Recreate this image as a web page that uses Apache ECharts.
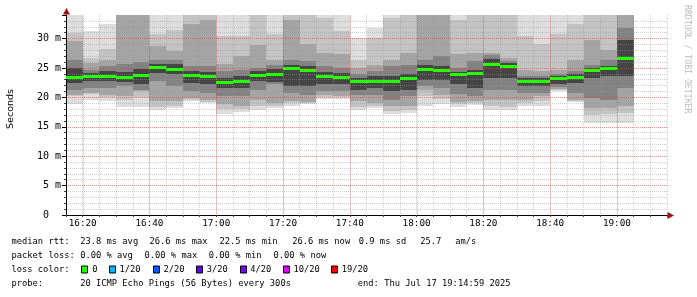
<!DOCTYPE html>
<html>
<head>
<meta charset="utf-8">
<script src="https://cdn.jsdelivr.net/npm/echarts@6/dist/echarts.min.js"></script>
<style>
html,body{margin:0;padding:0;background:#ffffff;}
#c{width:697px;height:297px;}
</style>
</head>
<body>
<div id="c"></div>
<script>
// ---------------- data ----------------
const colTimes = ['16:15','16:20','16:25','16:30','16:35','16:40','16:45','16:50','16:55','17:00','17:05','17:10',
  '17:15','17:20','17:25','17:30','17:35','17:40','17:45','17:50','17:55','18:00','18:05','18:10',
  '18:15','18:20','18:25','18:30','18:35','18:40','18:45','18:50','18:55','19:00'];
const medianRtt = [23.4,23.6,23.6,23.45,23.7,25.0,24.8,23.8,23.6,22.5,22.7,23.7,23.85,24.9,24.65,23.6,23.45,22.7,22.7,22.7,23.15,24.75,24.55,23.85,24.1,25.6,25.2,22.7,22.7,23.25,23.45,24.65,24.9,26.6];
// smoke band edges (ms), outermost (1) to innermost (5)
const smokeHi1 = [36,31.2,32.4,38,38,36,36,36,36,36,36,36,36,36,36,34.5,36,30.1,31.8,34.5,36,38,38,34.6,36,36,36,36,36,36,34.5,36,36,38];
const smokeHi2 = [30.95,26.7,28.2,36,36,30.7,31.5,35,35,30.4,30.4,35,30.7,35,35,33.5,31.2,26.4,30.1,33.5,35,36,36,33.2,35,35,35,30.4,29.0,30.7,32.4,35,35,37];
const smokeHi3 = [29.5,25.85,26.4,35,35,28.7,27.8,32.4,33.2,25.6,27.0,28.96,26.4,33.2,29.0,27.5,27.3,25.0,25.56,26.4,27.5,35,35,27.3,27.5,27.6,26.7,24.7,24.4,24.7,26.4,29.8,28.1,36];
const smokeHi4 = [26.4,24.7,25.3,25.6,26.0,26.4,26.4,25.3,25.3,24.4,24.7,25.0,25.56,26.4,26.1,25.3,25.0,23.9,24.4,25.3,25.56,26.4,27.0,25.0,26.1,27.2,26.2,23.6,23.7,23.9,24.4,25.56,26.4,31.8];
const smokeHi5 = [25.0,24.1,24.4,24.3,24.8,25.7,25.6,24.4,24.3,23.3,23.6,24.4,24.8,25.56,25.3,24.3,24.1,23.3,23.6,23.7,23.9,25.56,25.4,24.3,24.7,26.5,25.8,23.3,23.3,23.6,23.9,25.0,25.3,29.8];
const smokeLo5 = [22.4,22.7,22.7,22.6,22.2,24.1,23.9,22.4,22.2,21.6,21.6,22.7,22.6,21.9,21.9,22.2,22.2,21.3,21.6,21.0,21.3,23.0,23.0,22.2,21.6,23.3,23.3,21.9,21.9,22.2,22.4,23.3,23.6,23.6];
const smokeLo4 = [21.3,21.6,21.6,21.9,21.3,22.7,21.9,21.0,20.7,20.2,20.2,21.3,22.2,20.75,20.45,21.0,21.0,20.45,20.45,19.6,20.2,21.9,21.6,20.6,20.2,21.3,21.3,20.75,20.75,21.7,20.75,19.9,19.6,21.6];
const smokeLo3 = [20.45,20.75,20.45,20.3,21.0,19.3,19.3,19.9,19.6,18.8,18.5,19.6,19.0,19.3,19.2,20.4,20.2,19.3,19.0,18.5,18.5,21.3,20.45,19.2,19.3,19.6,19.6,19.6,20.2,21.4,19.6,18.2,18.2,18.5];
const smokeLo2 = [20.2,20.6,20.1,19.6,20.0,18.4,18.6,19.6,19.2,18.0,18.0,18.5,18.6,19.0,19.0,20.1,20.0,18.3,18.5,17.6,17.8,20.2,19.8,18.8,19.0,18.5,18.3,19.0,19.3,21.2,19.4,17.0,17.2,17.3];
const smokeLo1 = [18.8,19.5,19.4,18.3,18.3,17.9,18.2,19.3,19.0,17.2,17.5,17.8,18.2,18.6,18.8,19.8,19.8,17.8,18.2,17.2,17.4,18.6,18.8,18.4,18.7,17.8,17.8,18.6,18.5,21.0,19.2,15.6,15.6,15.6];

const xTickLabels = ['16:20','16:40','17:00','17:20','17:40','18:00','18:20','18:40','19:00'];
const yTickLabels = ['0','5 m','10 m','15 m','20 m','25 m','30 m'];
const axisStart = '16:15';
const axisEnd = '19:15';
const stepMinutes = 5;
const yMax = 34;

const lossLabels = ['0','1/20','2/20','3/20','4/20','10/20','19/20'];
const legendRow1 = ['median rtt:','23.8 ms avg','26.6 ms max','22.5 ms min','26.6 ms now','0.9 ms sd','25.7','am/s'];
const legendRow2 = ['packet loss:','0.00 % avg','0.00 % max','0.00 % min','0.00 % now'];
const legendRow3 = ['loss color:'];
const legendRow4 = ['probe:','20 ICMP Echo Pings (56 Bytes) every 300s','end: Thu Jul 17 19:14:59 2025'];
const watermark = 'RRDTOOL / TOBI OETIKER';
const yAxisTitle = 'Seconds';

// ---------------- styles / layout ----------------
const lossColors = ['#26ff00','#00b8ff','#0059ff','#5e00ff','#7e00ff','#dd00ff','#ff0000'];
const bandColors = ['#dddddd','#c3c3c3','#a4a4a4','#828282','#454545'];
const MONO = '"DejaVu Sans Mono"';
const row1X = [11.5,80.2,149.5,219.5,292.2,358.8,420.2,455.2];
const row2X = [11.5,80.2,144.5,208.8,273.5];
const row4X = [11.5,80.2,357.8];
const boxX = [81.5,109.5,153.5,196.5,240.5,283.5,331.5];
const boxLabelX = [92.2,119.5,163.5,206.8,250.2,293.5,341.8];
const rowY = [241.7,255.5,269.5,283.5];

function toMin(s){ const p = s.split(':').map(Number); return p[0]*60+p[1]; }
function minToStr(v){ const h = Math.floor(v/60), m = Math.round(v - h*60); return h + ':' + (m<10?'0':'') + m; }

const colMin = colTimes.map(toMin);
const xMin = toMin(axisStart), xMax = toMin(axisEnd);

const bandsHi = [smokeHi1, smokeHi2, smokeHi3, smokeHi4, smokeHi5];
const bandsLo = [smokeLo1, smokeLo2, smokeLo3, smokeLo4, smokeLo5];

function clipToGrid(r, cs){
  return echarts.graphic.clipRectByRect(r, {x: cs.x, y: cs.y, width: cs.width, height: cs.height});
}

function bandSeries(k){
  return {
    type: 'custom',
    silent: true,
    z: 2,
    encode: {x: 0, y: [1, 2]},
    data: colMin.map((m, i) => [m, bandsLo[k][i], bandsHi[k][i]]),
    renderItem: function(params, api){
      const t = api.value(0), lo = api.value(1), hi = api.value(2);
      const pA = api.coord([t, lo]);
      const pB = api.coord([t + stepMinutes, hi]);
      const x0 = Math.round(pA[0]), x1 = Math.round(pB[0]);
      const yTop = Math.round(pB[1]), yBot = Math.round(pA[1]);
      const r = clipToGrid({x: x0, y: yTop, width: x1 - x0, height: yBot - yTop}, params.coordSys);
      if (!r) return null;
      return {type: 'rect', shape: r, style: {fill: bandColors[k]}};
    }
  };
}

const series = [];
for (let k = 0; k < 5; k++) series.push(bandSeries(k));

const majorColor = 'rgba(255,0,0,0.3)';
// major vertical grid lines (red dotted) at the labelled times
series.push({
  type: 'custom',
  silent: true,
  z: 4,
  encode: {x: 0, y: 1},
  data: xTickLabels.map(s => [toMin(s), 0]),
  renderItem: function(params, api){
    const t = api.value(0);
    const p0 = api.coord([t, 0]);
    const p1 = api.coord([t, yMax]);
    const x = Math.round(p0[0]) + 0.5;
    return {type: 'line', shape: {x1: x, y1: p0[1], x2: x, y2: p1[1]},
      style: {stroke: majorColor, lineWidth: 1, lineDash: [1, 1]}};
  }
});

// median rtt (loss colour 0)
series.push({
  type: 'custom',
  silent: true,
  z: 6,
  encode: {x: 0, y: 1},
  data: colMin.map((m, i) => [m, medianRtt[i]]),
  renderItem: function(params, api){
    const t = api.value(0), v = api.value(1);
    const pA = api.coord([t, v]);
    const pB = api.coord([t + stepMinutes, v]);
    const x0 = Math.round(pA[0]), x1 = Math.round(pB[0]);
    const yc = Math.round(pA[1] - 1.5);
    return {type: 'rect', shape: {x: x0, y: yc, width: x1 - x0, height: 3}, style: {fill: lossColors[0]}};
  }
});

// ---------------- graphics (legend / decorations) ----------------
const graphics = [];
function addText(str, x, y, opts){
  graphics.push(Object.assign({
    type: 'text', silent: true, z: 10,
    style: {text: str, x: x, y: y, font: '8.75px ' + MONO, fill: '#000', textAlign: 'left', textVerticalAlign: 'middle'}
  }, opts || {}));
}
legendRow1.forEach((s, i) => addText(s, row1X[i], rowY[0]));
legendRow2.forEach((s, i) => addText(s, row2X[i], rowY[1]));
addText(legendRow3[0], 11.5, rowY[2]);
lossLabels.forEach((s, i) => {
  graphics.push({type: 'rect', silent: true, z: 10,
    shape: {x: boxX[i], y: rowY[2] - 3.5, width: 6, height: 7},
    style: {fill: lossColors[i], stroke: '#000', lineWidth: 1}});
  addText(s, boxLabelX[i], rowY[2]);
});
legendRow4.forEach((s, i) => addText(s, row4X[i], rowY[3]));

// y axis title
graphics.push({type: 'text', silent: true, z: 10, x: 11, y: 109, rotation: Math.PI/2,
  style: {text: yAxisTitle, x: 0, y: 0, font: '9.5px "DejaVu Sans"', fill: '#000', textAlign: 'center', textVerticalAlign: 'middle'}});
// watermark
graphics.push({type: 'text', silent: true, z: 10, x: 687.5, y: 5, rotation: -Math.PI/2,
  style: {text: watermark, x: 0, y: 0, font: '8.2px ' + MONO, fill: '#bdbdbd', textAlign: 'left', textVerticalAlign: 'middle'}});
// axis arrows
graphics.push({type: 'polygon', silent: true, z: 10,
  shape: {points: [[63, 14.5], [70, 14.5], [66.5, 8]]}, style: {fill: '#a01010'}});
graphics.push({type: 'polygon', silent: true, z: 10,
  shape: {points: [[667.5, 212], [667.5, 219], [674, 215.5]]}, style: {fill: '#a01010'}});

const minorGrid = {color: 'rgba(150,150,150,0.45)', width: 1, type: [1, 1]};
const majorGrid = {color: majorColor, width: 1, type: [1, 1]};

const option = {
  animation: false,
  backgroundColor: '#ffffff',
  grid: {left: 66, top: 15, width: 601, height: 200},
  xAxis: [{
    type: 'value', min: xMin, max: xMax, interval: stepMinutes, z: 3,
    axisLine: {show: true, lineStyle: {color: '#000', width: 1}},
    axisTick: {show: true, length: 2, lineStyle: {color: '#444'}},
    axisLabel: {
      fontFamily: 'DejaVu Sans Mono', fontSize: 9.3, color: '#000', margin: 4,
      formatter: function(v){ const s = minToStr(v); return xTickLabels.indexOf(s) >= 0 ? s : ''; }
    },
    splitLine: {show: true, showMinLine: false, lineStyle: minorGrid}
  }],
  yAxis: [{
    type: 'value', min: 0, max: yMax, interval: 1, z: 3,
    axisLine: {show: true, lineStyle: {color: '#000', width: 1}},
    axisTick: {show: true, length: 2, lineStyle: {color: '#444'}},
    axisLabel: {show: false},
    splitLine: {show: true, showMinLine: false, showMaxLine: false, lineStyle: minorGrid}
  }, {
    type: 'value', min: 0, max: yMax, interval: 5, z: 4, position: 'left',
    axisLine: {show: false},
    axisTick: {show: true, length: 4, lineStyle: {color: '#000'}},
    axisLabel: {
      fontFamily: 'DejaVu Sans Mono', fontSize: 10, color: '#000', margin: 5,
      formatter: function(v){
        const i = Math.round(v / 5);
        if (Math.abs(v - i*5) > 1e-6 || i >= yTickLabels.length) return '';
        const s = yTickLabels[i];
        return s.length < 3 ? s + '  ' : s;
      }
    },
    splitLine: {show: true, showMinLine: false, showMaxLine: false, lineStyle: majorGrid}
  }],
  series: series,
  graphic: graphics
};

const chart = echarts.init(document.getElementById('c'), null, {renderer: 'canvas', width: 697, height: 297});
chart.setOption(option);
</script>
</body>
</html>
